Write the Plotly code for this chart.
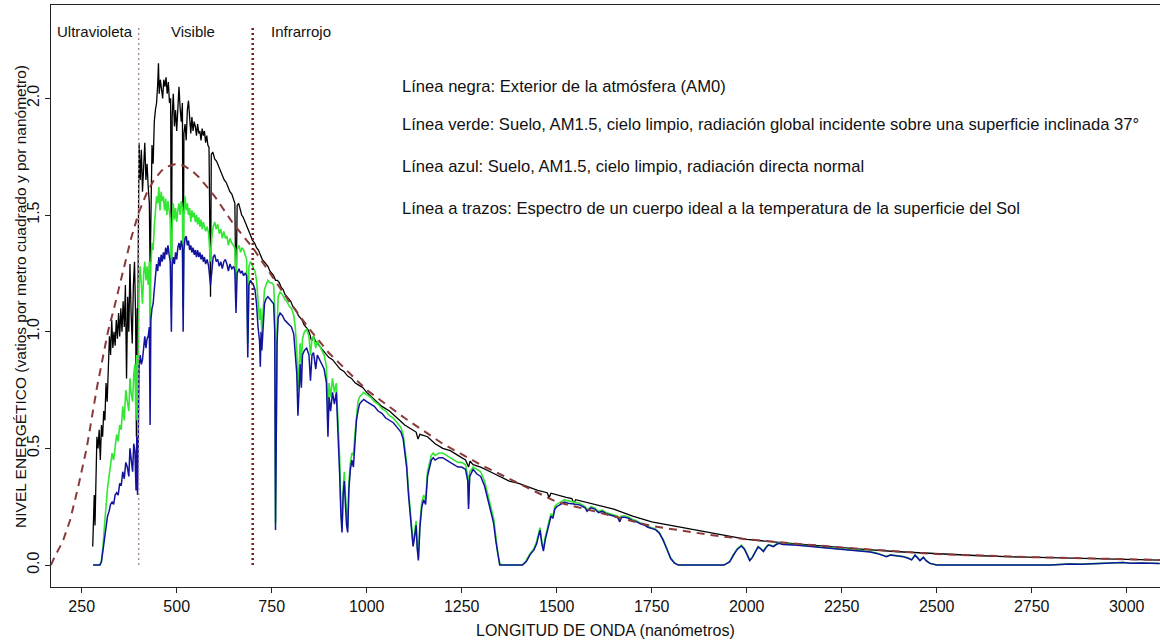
import plotly.graph_objects as go

# ---------------- data ----------------
# Black: outside the atmosphere (AM0)
wl_am0 = [279, 281, 283, 285, 287, 290, 293, 296, 299, 302, 305, 308, 311, 314, 317, 320, 323, 326, 329, 332,
          335, 338, 341, 344, 347, 350, 353, 356, 359, 362, 365, 368, 371, 374, 377, 380, 383, 386, 389, 392,
          394, 396, 397, 399, 401, 404, 407, 410, 413, 416, 419, 422, 425, 428, 430, 432, 435, 438, 441, 444,
          447, 450, 452, 454, 457, 460, 463, 466, 469, 472, 475, 478, 481, 484, 486, 488, 491, 494, 497, 500,
          503, 506, 509, 512, 515, 517, 519, 522, 525, 528, 531, 534, 537, 540, 543, 546, 549, 552, 555, 558,
          561, 564, 567, 570, 573, 576, 579, 582, 585, 589, 591, 595, 600, 605, 610, 615, 620, 625, 630, 635,
          640, 645, 650, 653, 656, 659, 663, 667, 671, 675, 680, 685, 690, 695, 700, 705, 710, 715, 720, 725,
          730, 735, 740, 745, 750, 755, 760, 765, 770, 775, 780, 785, 790, 795, 800, 805, 810, 815, 820, 825,
          830, 835, 840, 845, 850, 855, 860, 865, 870, 880, 890, 900, 910, 920, 930, 940, 950, 960, 970, 980,
          990, 1000, 1020, 1040, 1060, 1080, 1100, 1120, 1130, 1135, 1140, 1160, 1180, 1200, 1220, 1240, 1260, 1268, 1272,
          1280, 1300, 1325, 1350, 1375, 1400, 1425, 1450, 1475, 1480, 1485, 1500, 1525, 1540, 1545, 1550, 1575, 1600,
          1650, 1700, 1750, 1800, 1850, 1900, 1950, 2000, 2100, 2200, 2300, 2400, 2500, 2600, 2700, 2800,
          2900, 3000, 3090]
am0 = [0.08, 0.22, 0.30, 0.17, 0.33, 0.55, 0.50, 0.58, 0.45, 0.60, 0.55, 0.66, 0.62, 0.78, 0.70, 0.86, 0.98, 0.90, 1.05, 0.93,
       1.00, 0.94, 1.05, 0.97, 1.08, 0.98, 1.10, 1.00, 1.13, 1.02, 1.20, 0.80, 1.15, 1.00, 1.29, 1.08, 0.95, 1.20, 1.30, 1.05,
       0.55, 1.10, 0.70, 1.40, 1.81, 1.65, 1.78, 1.60, 1.75, 1.81, 1.65, 1.72, 1.62, 1.55, 1.25, 1.60, 1.80, 1.72, 1.90, 1.95,
       1.98, 2.06, 2.15, 2.02, 2.08, 2.04, 2.00, 2.08, 2.05, 2.09, 2.02, 2.07, 1.98, 2.00, 1.10, 1.92, 2.02, 1.88, 1.95, 1.86,
       1.97, 2.05, 1.96, 1.90, 1.98, 1.10, 1.85, 1.89, 1.82, 1.95, 1.99, 1.90, 1.85, 1.92, 1.86, 1.90, 1.88, 1.84, 1.89, 1.85,
       1.86, 1.82, 1.87, 1.84, 1.86, 1.81, 1.84, 1.80, 1.79, 1.15, 1.76, 1.77, 1.74, 1.73, 1.71, 1.69, 1.67, 1.65, 1.64, 1.62,
       1.60, 1.59, 1.57, 1.55, 1.12, 1.54, 1.55, 1.52, 1.50, 1.49, 1.47, 1.45, 1.43, 1.41, 1.39, 1.38, 1.36, 1.35, 1.33, 1.31,
       1.30, 1.29, 1.28, 1.26, 1.25, 1.24, 1.22, 1.22, 1.21, 1.19, 1.18, 1.16, 1.15, 1.14, 1.13, 1.11, 1.10, 1.09, 1.07, 1.06,
       1.05, 1.03, 1.02, 1.01, 0.99, 0.96, 0.98, 0.96, 0.95, 0.93, 0.91, 0.89, 0.88, 0.86, 0.84, 0.83, 0.81, 0.80, 0.78, 0.77,
       0.76, 0.74, 0.71, 0.68, 0.66, 0.63, 0.60, 0.58, 0.57, 0.54, 0.56, 0.55, 0.52, 0.50, 0.49, 0.47, 0.45, 0.42, 0.445,
       0.43, 0.42, 0.40, 0.38, 0.36, 0.35, 0.335, 0.32, 0.31, 0.29, 0.308, 0.30, 0.29, 0.285, 0.265, 0.28, 0.27, 0.26,
       0.24, 0.21, 0.185, 0.17, 0.155, 0.14, 0.125, 0.11, 0.095, 0.08, 0.068, 0.057, 0.048, 0.041, 0.035, 0.031,
       0.027, 0.024, 0.021]

# Green: ground, AM1.5, global on 37 deg tilted surface
wl_glob = [280, 290, 298, 302, 306, 310, 314, 318, 322, 326, 330, 334, 338, 342, 346, 350, 354, 358, 362, 366,
           370, 374, 377, 380, 384, 387, 390, 393, 395, 397, 399, 401, 404, 407, 410, 413, 416, 419, 422, 425,
           428, 430, 432, 435, 438, 441, 444, 447, 450, 453, 456, 459, 462, 465, 468, 471, 474, 477, 480, 483,
           486, 488, 491, 494, 497, 500, 503, 506, 509, 512, 515, 517, 519, 522, 525, 528, 531, 534, 537, 540,
           543, 546, 549, 552, 555, 558, 561, 564, 567, 570, 573, 576, 580, 584, 589, 592, 596, 600, 604, 608,
           612, 616, 620, 624, 628, 632, 636, 640, 645, 650, 653, 656, 659, 664, 668, 672, 676, 680, 684, 687,
           690, 694, 698, 702, 706, 710, 714, 718, 721, 724, 727, 731, 735, 740, 745, 750, 755, 758, 760, 762,
           764, 767, 772, 778, 784, 790, 796, 802, 808, 812, 816, 819, 822, 825, 828, 831, 836, 842, 848, 852,
           856, 860, 866, 870, 876, 882, 888, 894, 898, 901, 905, 910, 915, 920, 925, 929, 932, 935, 938, 941,
           944, 947, 950, 953, 957, 961, 965, 969, 973, 977, 981, 986, 992, 1000, 1010, 1020, 1030, 1040, 1050, 1060,
           1070, 1080, 1090, 1096, 1100, 1105, 1110, 1114, 1118, 1122, 1126, 1130, 1133, 1136, 1140, 1145, 1150, 1155, 1160, 1165,
           1170, 1175, 1180, 1190, 1200, 1210, 1220, 1230, 1240, 1250, 1260, 1266, 1268, 1271, 1280, 1290, 1300, 1310, 1318, 1326,
           1334, 1340, 1345, 1350, 1355, 1410, 1420, 1430, 1440, 1447, 1452, 1456, 1461, 1465, 1470, 1475, 1480, 1485, 1490, 1495,
           1500, 1510, 1520, 1530, 1545, 1560, 1575, 1580, 1590, 1600, 1610, 1620, 1630, 1640, 1650, 1660, 1666, 1670, 1680, 1690,
           1700, 1710, 1720, 1730, 1740, 1750, 1760, 1770, 1780, 1790, 1800, 1810, 1820, 1940, 1955, 1965, 1975, 1986, 1994, 2000,
           2008, 2015, 2022, 2030, 2038, 2044, 2050, 2057, 2064, 2070, 2078, 2085, 2095, 2110, 2125, 2140, 2155, 2170, 2190, 2210,
           2230, 2250, 2275, 2300, 2325, 2342, 2355, 2368, 2378, 2390, 2400, 2412, 2425, 2434, 2443, 2450, 2456, 2465, 2472, 2482,
           2500, 2800, 2824, 2850, 2880, 2912, 2940, 2970, 2991, 3010, 3040, 3087]
glob = [0.0, 0.0, 0.0, 0.02, 0.08, 0.17, 0.26, 0.33, 0.38, 0.44, 0.48, 0.45, 0.52, 0.56, 0.53, 0.60, 0.58, 0.68, 0.62, 0.75,
        0.70, 0.66, 0.80, 0.74, 0.70, 0.82, 0.86, 0.62, 0.90, 0.65, 0.95, 1.20, 1.28, 1.18, 1.12, 1.25, 1.30, 1.22, 1.28, 1.20,
        1.30, 0.95, 1.28, 1.38, 1.35, 1.45, 1.52, 1.58, 1.55, 1.62, 1.52, 1.60, 1.56, 1.58, 1.52, 1.57, 1.50, 1.56, 1.52, 1.48,
        1.15, 1.45, 1.55, 1.48, 1.53, 1.47, 1.52, 1.55, 1.50, 1.56, 1.53, 1.10, 1.50, 1.58, 1.52, 1.55, 1.50, 1.53, 1.47, 1.52,
        1.49, 1.51, 1.47, 1.50, 1.46, 1.49, 1.45, 1.48, 1.44, 1.47, 1.45, 1.43, 1.45, 1.42, 1.30, 1.40, 1.45, 1.47, 1.44, 1.46,
        1.42, 1.44, 1.40, 1.43, 1.40, 1.41, 1.37, 1.40, 1.38, 1.37, 1.36, 1.18, 1.35, 1.37, 1.34, 1.36, 1.35, 1.33, 1.31, 0.95,
        1.28, 1.30, 1.29, 1.27, 1.26, 1.22, 1.12, 1.05, 1.10, 1.00, 1.08, 1.18, 1.20, 1.22, 1.21, 1.21, 1.20, 1.10, 0.18, 0.60,
        1.00, 1.15, 1.17, 1.16, 1.14, 1.13, 1.11, 1.10, 1.07, 1.02, 0.92, 0.75, 0.88, 0.95, 0.85, 0.97, 1.00, 1.01, 0.98, 0.90,
        0.97, 0.98, 0.93, 0.96, 0.94, 0.92, 0.90, 0.85, 0.65, 0.78, 0.72, 0.80, 0.74, 0.78, 0.62, 0.45, 0.25, 0.16, 0.32, 0.40,
        0.30, 0.20, 0.16, 0.35, 0.44, 0.48, 0.47, 0.56, 0.65, 0.70, 0.72, 0.73, 0.74, 0.73, 0.72, 0.70, 0.69, 0.67, 0.66, 0.64,
        0.63, 0.61, 0.59, 0.56, 0.50, 0.44, 0.32, 0.24, 0.16, 0.09, 0.14, 0.19, 0.08, 0.03, 0.18, 0.27, 0.30, 0.28, 0.40, 0.43,
        0.47, 0.48, 0.47, 0.48, 0.48, 0.47, 0.46, 0.45, 0.44, 0.44, 0.43, 0.38, 0.26, 0.40, 0.42, 0.41, 0.40, 0.36, 0.31, 0.26,
        0.20, 0.12, 0.05, 0.01, 0.0, 0.0, 0.02, 0.05, 0.07, 0.10, 0.13, 0.16, 0.10, 0.07, 0.12, 0.16, 0.19, 0.22, 0.21, 0.25,
        0.26, 0.27, 0.28, 0.275, 0.27, 0.265, 0.25, 0.235, 0.25, 0.245, 0.23, 0.235, 0.225, 0.22, 0.215, 0.21, 0.19, 0.21, 0.21, 0.205,
        0.195, 0.19, 0.18, 0.175, 0.165, 0.16, 0.155, 0.14, 0.11, 0.07, 0.03, 0.01, 0.0, 0.0, 0.015, 0.045, 0.07, 0.085, 0.07, 0.05,
        0.02, 0.035, 0.055, 0.08, 0.07, 0.06, 0.075, 0.088, 0.085, 0.08, 0.09, 0.095, 0.09, 0.09, 0.088, 0.086, 0.085, 0.082, 0.078, 0.075,
        0.073, 0.07, 0.066, 0.063, 0.058, 0.052, 0.045, 0.037, 0.044, 0.042, 0.038, 0.037, 0.03, 0.023, 0.043, 0.03, 0.02, 0.034, 0.02, 0.008,
        0.0, 0.0, 0.003, 0.005, 0.004, 0.006, 0.005, 0.009, 0.011, 0.008, 0.009, 0.007]

# Blue: ground, AM1.5, direct normal
wl_dir = [280, 290, 298, 302, 306, 310, 314, 318, 322, 326, 330, 334, 338, 342, 346, 350, 354, 358, 362, 366,
          370, 374, 377, 380, 384, 387, 390, 393, 395, 397, 399, 401, 404, 407, 410, 413, 416, 419, 422, 425,
          428, 430, 432, 435, 438, 441, 444, 447, 450, 453, 456, 459, 462, 465, 468, 471, 474, 477, 480, 483,
          486, 488, 491, 494, 497, 500, 503, 506, 509, 512, 515, 517, 519, 522, 525, 528, 531, 534, 537, 540,
          543, 546, 549, 552, 555, 558, 561, 564, 567, 570, 573, 576, 580, 584, 589, 592, 596, 600, 604, 608,
          612, 616, 620, 624, 628, 632, 636, 640, 645, 650, 653, 656, 659, 664, 668, 672, 676, 680, 684, 687,
          690, 694, 698, 702, 706, 710, 714, 718, 720, 722, 724, 727, 731, 735, 740, 745, 750, 755, 758, 760,
          762, 764, 767, 772, 778, 784, 790, 796, 802, 808, 812, 816, 819, 822, 825, 828, 831, 836, 842, 848,
          852, 856, 860, 866, 870, 876, 882, 888, 894, 898, 901, 905, 910, 915, 920, 925, 929, 932, 935, 938,
          941, 944, 947, 950, 953, 957, 961, 965, 969, 973, 977, 981, 986, 992, 1000, 1010, 1020, 1030, 1040, 1050,
          1060, 1070, 1080, 1090, 1096, 1100, 1105, 1110, 1114, 1118, 1122, 1126, 1130, 1133, 1136, 1140, 1145, 1150, 1155, 1160,
          1165, 1170, 1175, 1180, 1190, 1200, 1210, 1220, 1230, 1240, 1250, 1260, 1266, 1268, 1271, 1280, 1290, 1300, 1310, 1318,
          1326, 1334, 1340, 1345, 1350, 1410, 1420, 1430, 1440, 1447, 1452, 1456, 1461, 1465, 1470, 1475, 1480, 1485, 1490, 1495,
          1500, 1510, 1520, 1530, 1545, 1560, 1575, 1580, 1590, 1600, 1610, 1620, 1630, 1640, 1650, 1660, 1666, 1670, 1680, 1690,
          1700, 1710, 1720, 1730, 1740, 1750, 1760, 1770, 1780, 1790, 1800, 1810, 1820, 1940, 1955, 1965, 1975, 1986, 1994, 2000,
          2008, 2015, 2022, 2030, 2038, 2044, 2050, 2057, 2064, 2070, 2078, 2085, 2095, 2110, 2125, 2140, 2155, 2170, 2190, 2210,
          2230, 2250, 2275, 2300, 2325, 2342, 2355, 2368, 2378, 2390, 2400, 2412, 2425, 2434, 2443, 2450, 2456, 2465, 2472, 2482,
          2500, 2800, 2824, 2850, 2880, 2912, 2940, 2970, 2991, 3010, 3040, 3087]
direct = [0.0, 0.0, 0.0, 0.015, 0.06, 0.12, 0.17, 0.21, 0.23, 0.26, 0.27, 0.26, 0.30, 0.31, 0.30, 0.35, 0.34, 0.40, 0.37, 0.44,
          0.42, 0.38, 0.50, 0.46, 0.40, 0.52, 0.49, 0.32, 0.55, 0.30, 0.62, 0.85, 0.90, 0.86, 0.88, 0.95, 0.98, 0.93, 0.97, 0.98,
          1.02, 0.60, 1.05, 1.10, 1.12, 1.18, 1.24, 1.29, 1.26, 1.32, 1.28, 1.33, 1.30, 1.34, 1.31, 1.36, 1.33, 1.37, 1.33, 1.30,
          1.00, 1.28, 1.32, 1.29, 1.34, 1.31, 1.36, 1.38, 1.35, 1.39, 1.36, 1.00, 1.35, 1.40, 1.41, 1.37, 1.39, 1.35, 1.37, 1.34,
          1.36, 1.33, 1.35, 1.32, 1.35, 1.32, 1.34, 1.31, 1.33, 1.30, 1.32, 1.29, 1.31, 1.28, 1.20, 1.27, 1.32, 1.33, 1.30, 1.31,
          1.28, 1.30, 1.27, 1.30, 1.31, 1.29, 1.26, 1.29, 1.27, 1.28, 1.26, 1.08, 1.25, 1.27, 1.25, 1.26, 1.24, 1.25, 1.24, 0.89,
          1.20, 1.22, 1.21, 1.20, 1.18, 1.12, 1.02, 0.96, 0.85, 1.00, 0.92, 1.02, 1.12, 1.14, 1.15, 1.14, 1.13, 1.12, 1.00, 0.15,
          0.55, 0.95, 1.06, 1.08, 1.07, 1.05, 1.04, 1.03, 1.02, 0.99, 0.92, 0.82, 0.64, 0.78, 0.86, 0.76, 0.90, 0.92, 0.93, 0.90,
          0.79, 0.90, 0.91, 0.84, 0.90, 0.88, 0.86, 0.84, 0.78, 0.55, 0.72, 0.66, 0.74, 0.69, 0.74, 0.56, 0.38, 0.22, 0.14, 0.30,
          0.36, 0.26, 0.17, 0.14, 0.32, 0.41, 0.45, 0.42, 0.52, 0.62, 0.66, 0.69, 0.70, 0.71, 0.70, 0.69, 0.68, 0.66, 0.65, 0.63,
          0.62, 0.61, 0.59, 0.57, 0.54, 0.48, 0.42, 0.30, 0.22, 0.14, 0.08, 0.12, 0.17, 0.07, 0.02, 0.16, 0.25, 0.28, 0.26, 0.38,
          0.41, 0.45, 0.46, 0.45, 0.46, 0.46, 0.45, 0.44, 0.43, 0.42, 0.42, 0.41, 0.36, 0.24, 0.38, 0.41, 0.39, 0.38, 0.34, 0.29,
          0.24, 0.18, 0.10, 0.04, 0.0, 0.0, 0.015, 0.045, 0.065, 0.09, 0.12, 0.15, 0.09, 0.06, 0.11, 0.14, 0.18, 0.21, 0.20, 0.24,
          0.25, 0.26, 0.27, 0.265, 0.26, 0.258, 0.245, 0.23, 0.245, 0.24, 0.225, 0.23, 0.22, 0.215, 0.21, 0.205, 0.185, 0.205, 0.205, 0.2,
          0.19, 0.186, 0.177, 0.172, 0.162, 0.157, 0.152, 0.137, 0.107, 0.068, 0.028, 0.008, 0.0, 0.0, 0.013, 0.042, 0.067, 0.082, 0.068, 0.048,
          0.019, 0.033, 0.052, 0.078, 0.068, 0.058, 0.073, 0.086, 0.083, 0.079, 0.088, 0.093, 0.088, 0.088, 0.086, 0.084, 0.083, 0.08, 0.076, 0.073,
          0.071, 0.068, 0.064, 0.061, 0.056, 0.05, 0.043, 0.036, 0.043, 0.041, 0.037, 0.036, 0.029, 0.022, 0.042, 0.029, 0.019, 0.033, 0.019, 0.007,
          0.0, 0.0, 0.003, 0.005, 0.004, 0.006, 0.005, 0.009, 0.011, 0.008, 0.009, 0.007]

# Dashed: ideal black body at the Sun's surface temperature
wl_bb = [169, 180, 200, 219, 240, 263, 290, 319, 335, 350, 365, 380, 400, 420, 440, 460, 480, 500, 520, 540,
         560, 580, 600, 625, 650, 675, 700, 750, 800, 850, 900, 950, 1000, 1100, 1200, 1300, 1400, 1500, 1600, 1700,
         1750, 1800, 1900, 2000, 2250, 2500, 2750, 3000, 3088]
bb = [0.0, 0.04, 0.10, 0.19, 0.33, 0.50, 0.76, 1.00, 1.10, 1.20, 1.30, 1.40, 1.51, 1.59, 1.65, 1.69, 1.71, 1.72, 1.71, 1.69,
      1.66, 1.62, 1.58, 1.52, 1.46, 1.41, 1.36, 1.24, 1.12, 1.01, 0.91, 0.83, 0.75, 0.63, 0.52, 0.43, 0.35, 0.27, 0.23, 0.19,
      0.167, 0.155, 0.13, 0.11, 0.075, 0.047, 0.034, 0.025, 0.022]

# Region boundaries and labels
bounds = [400, 700]
bound_top = 2.31
region_labels = ["Ultravioleta", "Visible", "Infrarrojo"]
region_x = [286, 544, 827]
region_y = 2.285

legend_lines = [
    "Línea negra: Exterior de la atmósfera (AM0)",
    "Línea verde: Suelo, AM1.5, cielo limpio, radiación global incidente sobre una superficie inclinada 37°",
    "Línea azul: Suelo, AM1.5, cielo limpio, radiación directa normal",
    "Línea a trazos: Espectro de un cuerpo ideal a la temperatura de la superficie del Sol",
]
legend_x = 1088
legend_y = [2.05, 1.886, 1.706, 1.530]

x_ticks = [250, 500, 750, 1000, 1250, 1500, 1750, 2000, 2250, 2500, 2750, 3000]
y_ticks = [0.0, 0.5, 1.0, 1.5, 2.0]
y_ticklabels = ["0.0", "0.5", "1.0", "1.5", "2.0"]

FONT = "Liberation Sans, Arial, Helvetica, sans-serif"

fig = go.Figure()
fig.add_trace(go.Scatter(x=wl_am0, y=am0, mode="lines", line=dict(color="#000000", width=1.3)))
fig.add_trace(go.Scatter(x=wl_glob, y=glob, mode="lines", line=dict(color="#33e633", width=1.6)))
fig.add_trace(go.Scatter(x=wl_dir, y=direct, mode="lines", line=dict(color="#12129e", width=1.5)))
fig.add_trace(go.Scatter(x=wl_bb, y=bb, mode="lines", line=dict(color="#8a3a3a", width=2, dash="8px,6px")))
fig.add_trace(go.Scatter(x=[bounds[0], bounds[0]], y=[0, bound_top], mode="lines",
                         line=dict(color="#b090a0", width=1.5, dash="2px,3px")))
fig.add_trace(go.Scatter(x=[bounds[1], bounds[1]], y=[0, bound_top], mode="lines",
                         line=dict(color="#7a1c1c", width=2.5, dash="2px,3px")))

for lab, xv in zip(region_labels, region_x):
    fig.add_annotation(x=xv, y=region_y, text=lab, showarrow=False, xanchor="center", yanchor="middle",
                       font=dict(family=FONT, size=15, color="#111"))

for txt, yv in zip(legend_lines, legend_y):
    fig.add_annotation(x=legend_x, y=yv, text=txt, showarrow=False, xanchor="left", yanchor="middle",
                       font=dict(family=FONT, size=16.6, color="#111"))

fig.add_annotation(x=0.5, y=-0.0756, xref="paper", yref="paper", text="LONGITUD DE ONDA (nanómetros)",
                   showarrow=False, xanchor="center", yanchor="middle",
                   font=dict(family=FONT, size=16, color="#111"))
fig.add_annotation(x=-0.028, y=0.5, xref="paper", yref="paper",
                   text="NIVEL ENERGÉTICO (vatios por metro cuadrado y por nanómetro)",
                   showarrow=False, xanchor="center", yanchor="middle", textangle=-90,
                   font=dict(family=FONT, size=15.5, color="#111"))

fig.update_layout(
    width=1160, height=642,
    margin=dict(l=51, r=0, t=5, b=55, autoexpand=False),
    paper_bgcolor="white", plot_bgcolor="white",
    showlegend=False,
    font=dict(family=FONT, size=16, color="#111"),
    xaxis=dict(range=[169.2, 3087.6], tickmode="array", tickvals=x_ticks, automargin=False,
               showgrid=False, zeroline=False, showline=True, linecolor="#222", linewidth=1.2,
               mirror=True, ticks="outside", ticklen=5, tickcolor="#222",
               tickfont=dict(family=FONT, size=16, color="#111")),
    yaxis=dict(range=[-0.094, 2.40], tickmode="array", tickvals=y_ticks, ticktext=y_ticklabels,
               automargin=False, tickangle=-90, showgrid=False, zeroline=False, showline=True,
               linecolor="#222", linewidth=1.2, ticks="outside", ticklen=5, tickcolor="#222",
               tickfont=dict(family=FONT, size=16, color="#111")),
)

fig.write_html("out.html", config={"displayModeBar": False},
               post_script="document.body.style.margin='0px';document.body.style.overflow='hidden';")
